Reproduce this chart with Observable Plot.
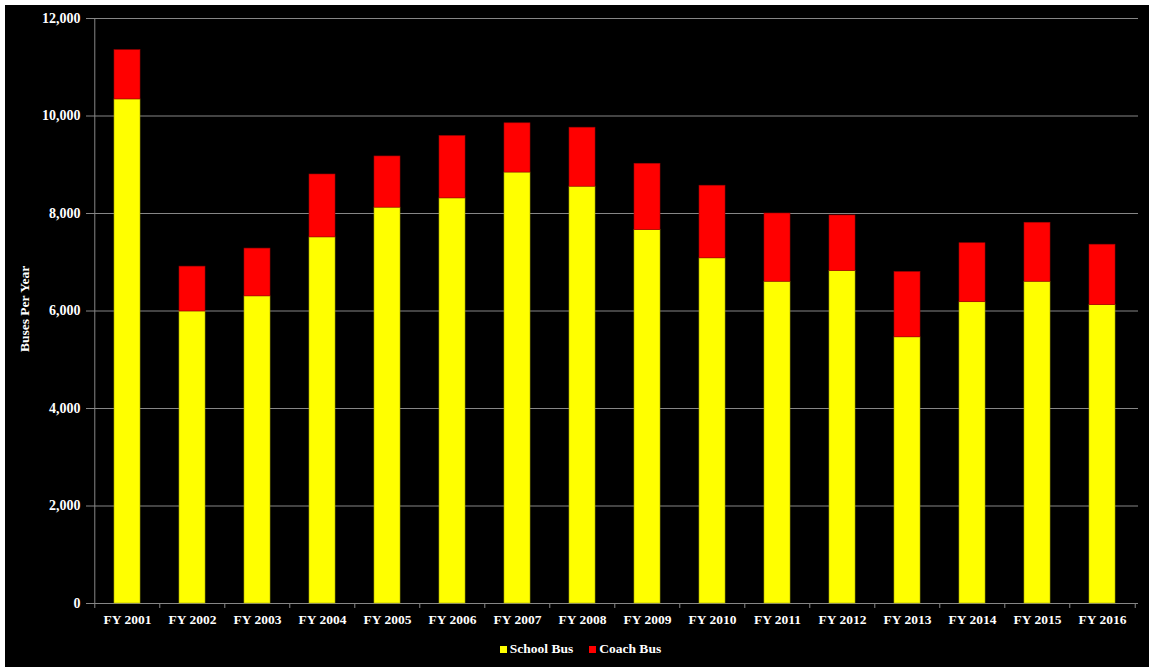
<!DOCTYPE html>
<html>
<head>
<meta charset="utf-8">
<script src="https://cdn.jsdelivr.net/npm/d3@7"></script>
<script src="https://cdn.jsdelivr.net/npm/@observablehq/plot@0.6"></script>
<style>
  html, body { margin: 0; padding: 0; background: #fff; }
  #chart {
    position: absolute; left: 5px; top: 5px;
    width: 1144px; height: 662px; background: #000;
    font-family: "Liberation Serif", "Times New Roman", serif; color: #fff;
  }
  #legend {
    display: flex; justify-content: center; align-items: center;
    height: 16px; margin-top: 6px; padding-left: 7px;
    font-size: 13.5px; font-weight: bold;
  }
  #legend .item { display: flex; align-items: center; margin: 0 8px; }
  #legend .sw { width: 7px; height: 7px; margin-right: 3px; display: inline-block; }
</style>
</head>
<body>
<div id="chart"></div>
<script>
// Fiscal years on the category axis
const years = ["FY 2001", "FY 2002", "FY 2003", "FY 2004", "FY 2005", "FY 2006", "FY 2007", "FY 2008",
               "FY 2009", "FY 2010", "FY 2011", "FY 2012", "FY 2013", "FY 2014", "FY 2015", "FY 2016"];
// Buses per year, by type
const schoolBus = [10340, 5990, 6300, 7510, 8120, 8310, 8840, 8550, 7660, 7080, 6600, 6820, 5460, 6180, 6600, 6120];
const coachBus  = [1010, 920, 980, 1290, 1050, 1280, 1010, 1210, 1360, 1490, 1400, 1140, 1340, 1210, 1210, 1240];
// Series names and colours
const seriesNames = ["School Bus", "Coach Bus"];
const seriesColors = ["#ffff00", "#ff0000"];
const seriesStrokes = ["#a6a600", "#a00000"];
// Value axis ticks
const yTicks = [0, 2000, 4000, 6000, 8000, 10000, 12000];

const rows = years.flatMap((year, i) => [
  {year, type: seriesNames[0], value: schoolBus[i]},
  {year, type: seriesNames[1], value: coachBus[i]}
]);

const W = 1144, H = 630;
const mL = 86, mR = 11, mT = 13, mB = 32;
const step = (W - mL - mR) / years.length;
const gray = "#868686";
const font = "'Liberation Serif', 'Times New Roman', serif";

const chart = Plot.plot({
  width: W, height: H,
  marginLeft: mL, marginRight: mR, marginTop: mT, marginBottom: mB,
  style: {background: "#000", color: "#fff", fontFamily: font, overflow: "visible"},
  x: {domain: years, paddingInner: 0.6, paddingOuter: 0.3},
  y: {domain: [0, 12000]},
  color: {domain: seriesNames, range: seriesColors},
  marks: [
    Plot.gridY(yTicks, {stroke: gray, strokeOpacity: 1, strokeWidth: 1}),
    // value axis line
    Plot.ruleX([years[0]], {x: d => d, y1: 0, y2: 12000, dx: -step / 2, stroke: gray, strokeWidth: 1}),
    // category boundary ticks below the baseline
    Plot.ruleX(years, {x: d => d, y1: 0, y2: 0, dx: -step / 2, insetBottom: -5, stroke: gray}),
    Plot.ruleX([years[years.length - 1]], {x: d => d, y1: 0, y2: 0, dx: step / 2, insetBottom: -5, stroke: gray}),
    Plot.barY(rows, {
      x: "year", y: "value", fill: "type", order: seriesNames,
      stroke: d => seriesStrokes[seriesNames.indexOf(d.type)], strokeWidth: 0.6
    }),
    Plot.axisY(yTicks, {
      tickSize: 5, tickPadding: 6, stroke: gray, fill: "#fff",
      fontSize: 14, fontWeight: "bold", tickFormat: d3.format(","), label: null
    }),
    Plot.axisX({
      tickSize: 0, tickPadding: 11, fill: "#fff",
      fontSize: 13.5, fontWeight: "bold", label: null
    }),
    Plot.text(["Buses Per Year"], {
      frameAnchor: "left", text: d => d, rotate: -90, dx: -67, dy: -2,
      fill: "#fff", fontSize: 13.5, fontWeight: "bold", textAnchor: "middle", lineAnchor: "middle"
    })
  ]
});

const root = document.getElementById("chart");
root.appendChild(chart);

const legend = document.createElement("div");
legend.id = "legend";
seriesNames.forEach((name, i) => {
  const item = document.createElement("span");
  item.className = "item";
  const sw = document.createElement("span");
  sw.className = "sw";
  sw.style.background = seriesColors[i];
  item.appendChild(sw);
  item.appendChild(document.createTextNode(name));
  legend.appendChild(item);
});
root.appendChild(legend);
</script>
</body>
</html>
